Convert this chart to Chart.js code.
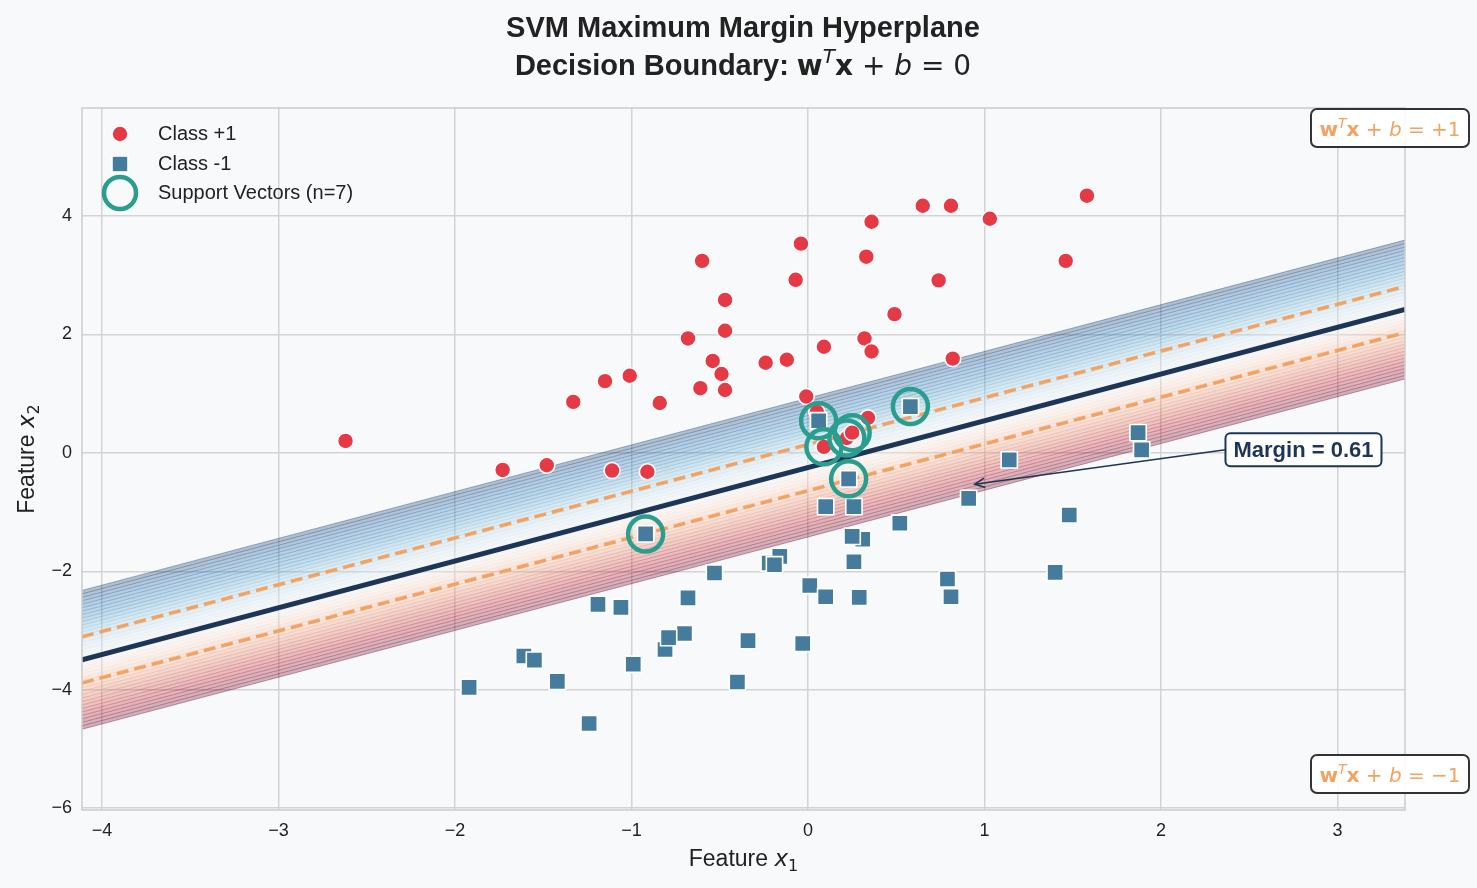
<!DOCTYPE html>
<html>
<head>
<meta charset="utf-8">
<script src="https://cdn.jsdelivr.net/npm/chart.js@4.4.1/dist/chart.umd.min.js"></script>
<style>
  html, body { margin: 0; padding: 0; background: #f8f9fa; }
</style>
</head>
<body>
<canvas id="svmChart" width="1477" height="888"></canvas>
<script>
// Class +1 samples
const posX = [-2.62, -1.73, -1.48, -1.33, -1.15, -1.01, -1.11, -0.91, -0.84, -0.68,
              -0.60, -0.61, -0.54, -0.49, -0.47, -0.47, -0.47, -0.24, -0.12, -0.07,
              -0.04, -0.01, 0.09, 0.05, 0.09, 0.22, 0.25, 0.33, 0.36, 0.32,
              0.36, 0.34, 0.49, 0.65, 0.81, 0.74, 0.82, 1.03, 1.46, 1.58];
const posY = [0.20, -0.29, -0.21, 0.86, 1.21, 1.30, -0.30, -0.32, 0.84, 1.93,
              3.24, 1.09, 1.55, 1.33, 2.58, 2.06, 1.06, 1.52, 1.57, 2.92,
              3.53, 0.95, 1.79, 0.69, 0.10, 0.25, 0.34, 3.31, 3.90, 1.93,
              1.71, 0.59, 2.34, 4.17, 4.17, 2.91, 1.59, 3.95, 3.24, 4.34];

// Class -1 samples
const negX = [-1.92, -1.61, -1.55, -1.42, -1.24, -1.19, -1.06, -0.99, -0.92, -0.81,
              -0.70, -0.79, -0.68, -0.53, -0.40, -0.34, -0.22, -0.16, -0.19, -0.03,
              0.01, 0.06, 0.10, 0.10, 0.23, 0.26, 0.31, 0.25, 0.26, 0.29,
              0.52, 0.58, 0.79, 0.81, 0.91, 1.14, 1.40, 1.48, 1.87, 1.89];
const negY = [-3.96, -3.43, -3.50, -3.86, -4.57, -2.56, -2.61, -3.57, -1.37, -3.32,
              -3.05, -3.12, -2.45, -2.03, -3.87, -3.17, -1.86, -1.75, -1.89, -3.22,
              -2.24, 0.54, -0.91, -2.43, -0.44, -0.91, -1.46, -1.41, -1.84, -2.44,
              -1.19, 0.78, -2.13, -2.43, -0.77, -0.12, -2.02, -1.05, 0.34, 0.05];

// support vectors
const svX = [-0.92, 0.06, 0.09, 0.22, 0.25, 0.23, 0.58];
const svY = [-1.37, 0.54, 0.10, 0.25, 0.34, -0.44, 0.78];

// hyperplane w^T x + b
const weights = [-2.02, 2.56];
const bias = 0.64;
const marginValue = 0.61;

// filled contour of decision function
const contourMin = -3;
const contourMax = 3;
const contourBands = 40;

const xTicks = [-4, -3, -2, -1, 0, 1, 2, 3];
const yTicks = [-6, -4, -2, 0, 2, 4];
const xRange = [-4.113, 3.382];
const yRange = [-6.03, 5.82];

const RED = '#e63946';
const BLUE = '#457b9d';
const TEAL = '#2a9d8f';
const NAVY = '#1d3557';
const ORANGE = '#f4a261';
const TEXT = '#222222';
const FONT = "'Liberation Sans', Arial, sans-serif";
const MATH = "'DejaVu Sans', sans-serif";

// RdBu colormap stops
const rdbu = ['#67001f', '#b2182b', '#d6604d', '#f4a582', '#fddbc7', '#f7f7f7',
              '#d1e5f0', '#92c5de', '#4393c3', '#2166ac', '#053061'];

function hexToRgb(h) {
    return [parseInt(h.slice(1, 3), 16), parseInt(h.slice(3, 5), 16), parseInt(h.slice(5, 7), 16)];
}

function rdbuColor(t, alpha) {
    t = Math.min(1, Math.max(0, t));
    const pos = t * (rdbu.length - 1);
    const i = Math.min(rdbu.length - 2, Math.floor(pos));
    const f = pos - i;
    const a = hexToRgb(rdbu[i]);
    const b = hexToRgb(rdbu[i + 1]);
    const c = a.map((v, k) => Math.round(v + (b[k] - v) * f));
    return `rgba(${c[0]}, ${c[1]}, ${c[2]}, ${alpha})`;
}

// line where w^T x + b = level, across the x range
function levelLine(level) {
    return xRange.map(x => ({ x: x, y: (level - bias - weights[0] * x) / weights[1] }));
}

const datasets = [];
const step = (contourMax - contourMin) / contourBands;
for (let i = 0; i <= contourBands; i++) {
    const level = contourMin + i * step;
    const mid = level - step / 2;
    datasets.push({
        type: 'line',
        data: levelLine(level),
        borderColor: rdbuColor((level - contourMin) / (contourMax - contourMin), 0.35),
        borderWidth: 1,
        pointRadius: 0,
        fill: i === 0 ? false : '-1',
        backgroundColor: rdbuColor((mid - contourMin) / (contourMax - contourMin), 0.3),
        order: 10
    });
}

datasets.push({
    type: 'line',
    data: levelLine(1),
    borderColor: ORANGE,
    borderWidth: 3.5,
    borderDash: [12, 6],
    pointRadius: 0,
    fill: false,
    order: 4
});
datasets.push({
    type: 'line',
    data: levelLine(-1),
    borderColor: ORANGE,
    borderWidth: 3.5,
    borderDash: [12, 6],
    pointRadius: 0,
    fill: false,
    order: 4
});
datasets.push({
    type: 'line',
    data: levelLine(0),
    borderColor: NAVY,
    borderWidth: 5,
    pointRadius: 0,
    fill: false,
    order: 3
});
datasets.push({
    label: 'Class +1',
    data: posX.map((x, i) => ({ x: x, y: posY[i] })),
    pointStyle: 'circle',
    pointRadius: 8,
    backgroundColor: RED,
    borderColor: '#ffffff',
    borderWidth: 1.6,
    order: 2
});
datasets.push({
    label: 'Class -1',
    data: negX.map((x, i) => ({ x: x, y: negY[i] })),
    pointStyle: 'rect',
    pointRadius: 11.5,
    backgroundColor: BLUE,
    borderColor: '#ffffff',
    borderWidth: 1.6,
    order: 1
});
datasets.push({
    label: 'Support Vectors (n=' + svX.length + ')',
    data: svX.map((x, i) => ({ x: x, y: svY[i] })),
    pointStyle: 'circle',
    pointRadius: 17.5,
    backgroundColor: 'rgba(0,0,0,0)',
    borderColor: TEAL,
    borderWidth: 4.5,
    order: 0
});

// draw text made of several font runs
function drawRich(ctx, parts, x, y, align) {
    let total = 0;
    parts.forEach(p => {
        ctx.font = p.f;
        p.w = ctx.measureText(p.t).width;
        total += p.w;
    });
    let cx = align === 'center' ? x - total / 2 : (align === 'right' ? x - total : x);
    ctx.textAlign = 'left';
    ctx.textBaseline = 'alphabetic';
    parts.forEach(p => {
        ctx.font = p.f;
        ctx.fillStyle = p.c;
        ctx.fillText(p.t, cx, y + (p.dy || 0));
        cx += p.w;
    });
    return total;
}

function roundBox(ctx, x, y, w, h, r, fill, stroke, lw) {
    ctx.beginPath();
    ctx.roundRect(x, y, w, h, r);
    ctx.fillStyle = fill;
    ctx.fill();
    ctx.lineWidth = lw;
    ctx.strokeStyle = stroke;
    ctx.stroke();
}

function mathParts(color, size, tail) {
    return [
        { t: 'w', f: `bold ${size}px ${MATH}`, c: color },
        { t: 'T', f: `italic ${Math.round(size * 0.7)}px ${MATH}`, c: color, dy: -size * 0.42 },
        { t: 'x', f: `bold ${size}px ${MATH}`, c: color },
        { t: ' + ', f: `${size}px ${MATH}`, c: color },
        { t: 'b', f: `italic ${size}px ${MATH}`, c: color },
        { t: tail, f: `${size}px ${MATH}`, c: color }
    ];
}

const decorPlugin = {
    id: 'decor',
    beforeDraw(chart) {
        const ctx = chart.ctx;
        const a = chart.chartArea;
        ctx.save();
        ctx.fillStyle = '#f8f9fa';
        ctx.fillRect(0, 0, chart.width, chart.height);
        ctx.fillStyle = '#f8f9fb';
        ctx.fillRect(a.left, a.top, a.right - a.left, a.bottom - a.top);
        ctx.restore();
    },
    afterDraw(chart) {
        const ctx = chart.ctx;
        const a = chart.chartArea;
        const xs = chart.scales.x;
        const ys = chart.scales.y;
        ctx.save();

        // frame
        ctx.strokeStyle = '#cccccc';
        ctx.lineWidth = 1.5;
        ctx.strokeRect(a.left, a.top, a.right - a.left, a.bottom - a.top);

        // title
        drawRich(ctx, [{ t: 'SVM Maximum Margin Hyperplane', f: `bold 29px ${FONT}`, c: TEXT }], 743, 37, 'center');
        drawRich(ctx, [{ t: 'Decision Boundary: ', f: `bold 29px ${FONT}`, c: TEXT }]
            .concat(mathParts(TEXT, 28, ' = 0')), 743, 75, 'center');

        // axis labels
        drawRich(ctx, [
            { t: 'Feature ', f: `23px ${FONT}`, c: TEXT },
            { t: 'x', f: `italic 23px ${MATH}`, c: TEXT },
            { t: '1', f: `16px ${MATH}`, c: TEXT, dy: 5 }
        ], (a.left + a.right) / 2, 866, 'center');
        ctx.save();
        ctx.translate(34, (a.top + a.bottom) / 2);
        ctx.rotate(-Math.PI / 2);
        drawRich(ctx, [
            { t: 'Feature ', f: `23px ${FONT}`, c: TEXT },
            { t: 'x', f: `italic 23px ${MATH}`, c: TEXT },
            { t: '2', f: `16px ${MATH}`, c: TEXT, dy: 5 }
        ], 0, 0, 'center');
        ctx.restore();

        // legend
        const lx = 120;
        const rows = [134, 164, 193];
        ctx.beginPath();
        ctx.arc(lx, rows[0], 8, 0, Math.PI * 2);
        ctx.fillStyle = RED;
        ctx.fill();
        ctx.strokeStyle = '#ffffff';
        ctx.lineWidth = 1.6;
        ctx.stroke();
        ctx.fillStyle = BLUE;
        ctx.fillRect(lx - 8, rows[1] - 8, 16, 16);
        ctx.strokeRect(lx - 8, rows[1] - 8, 16, 16);
        ctx.beginPath();
        ctx.arc(lx, rows[2], 16, 0, Math.PI * 2);
        ctx.strokeStyle = TEAL;
        ctx.lineWidth = 4.5;
        ctx.stroke();
        const labels = ['Class +1', 'Class -1', 'Support Vectors (n=' + svX.length + ')'];
        ctx.font = `20px ${FONT}`;
        ctx.fillStyle = TEXT;
        ctx.textAlign = 'left';
        ctx.textBaseline = 'middle';
        labels.forEach((t, i) => ctx.fillText(t, 158, rows[i]));

        // margin annotation
        const tipX = xs.getPixelForValue(0.945);
        const tipY = ys.getPixelForValue(-0.53);
        const boxX = xs.getPixelForValue(2.365);
        const boxY = ys.getPixelForValue(0.05);
        ctx.strokeStyle = NAVY;
        ctx.lineWidth = 1.6;
        ctx.beginPath();
        ctx.moveTo(boxX, boxY);
        ctx.lineTo(tipX, tipY);
        ctx.stroke();
        const ang = Math.atan2(boxY - tipY, boxX - tipX);
        ctx.beginPath();
        ctx.moveTo(tipX + 11 * Math.cos(ang + 0.45), tipY + 11 * Math.sin(ang + 0.45));
        ctx.lineTo(tipX, tipY);
        ctx.lineTo(tipX + 11 * Math.cos(ang - 0.45), tipY + 11 * Math.sin(ang - 0.45));
        ctx.stroke();
        ctx.font = `bold 22px ${FONT}`;
        const mText = 'Margin = ' + marginValue.toFixed(2);
        const mw = ctx.measureText(mText).width;
        roundBox(ctx, boxX, boxY - 16.5, mw + 16, 33, 5, '#ffffff', NAVY, 2);
        ctx.fillStyle = NAVY;
        ctx.textAlign = 'left';
        ctx.textBaseline = 'middle';
        ctx.fillText(mText, boxX + 8, boxY + 1);

        // corner equations
        roundBox(ctx, 1311, 109, 158, 38, 6, 'rgba(255,255,255,0.9)', '#333333', 2);
        drawRich(ctx, mathParts(ORANGE, 20, ' = +1'), 1390, 136, 'center');
        roundBox(ctx, 1311, 755, 158, 38, 6, 'rgba(255,255,255,0.9)', '#333333', 2);
        drawRich(ctx, mathParts(ORANGE, 20, ' = \u22121'), 1390, 782, 'center');

        ctx.restore();
    }
};

const minus = v => String(v).replace('-', '\u2212');

new Chart(document.getElementById('svmChart'), {
    type: 'scatter',
    data: { datasets: datasets },
    options: {
        responsive: false,
        animation: false,
        events: [],
        layout: { padding: { left: 0, right: 72, top: 108, bottom: 0 } },
        plugins: {
            legend: { display: false },
            tooltip: { enabled: false },
            title: { display: false }
        },
        scales: {
            x: {
                type: 'linear',
                min: xRange[0],
                max: xRange[1],
                afterBuildTicks: s => { s.ticks = xTicks.map(v => ({ value: v })); },
                afterFit: s => { s.height = 78; },
                grid: { color: '#d3d3d3', lineWidth: 1.5, drawTicks: false },
                border: { display: false },
                ticks: {
                    padding: 10,
                    color: TEXT,
                    font: { family: FONT, size: 18 },
                    callback: v => minus(v)
                }
            },
            y: {
                type: 'linear',
                min: yRange[0],
                max: yRange[1],
                afterBuildTicks: s => { s.ticks = yTicks.map(v => ({ value: v })); },
                afterFit: s => { s.width = 82; },
                grid: { color: '#d3d3d3', lineWidth: 1.5, drawTicks: false },
                border: { display: false },
                ticks: {
                    padding: 10,
                    color: TEXT,
                    font: { family: FONT, size: 18 },
                    callback: v => minus(v)
                }
            }
        }
    },
    plugins: [decorPlugin]
});
</script>
</body>
</html>
